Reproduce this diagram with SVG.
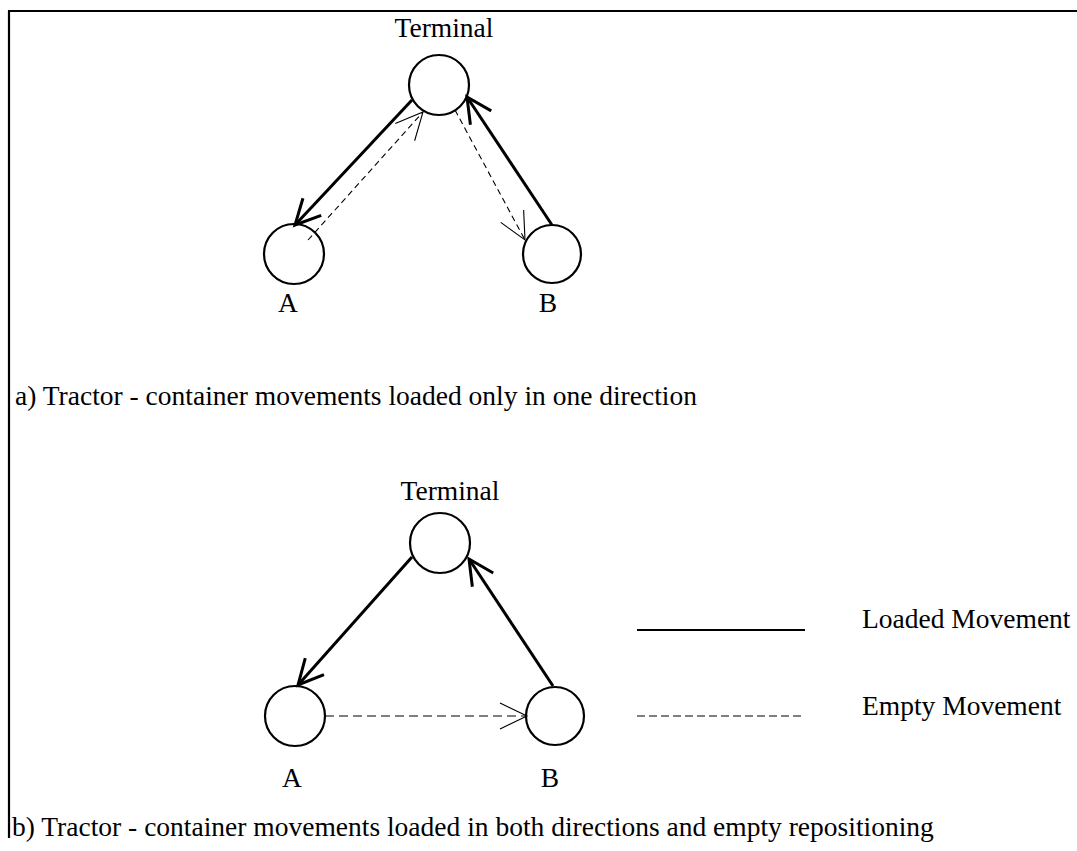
<svg xmlns="http://www.w3.org/2000/svg" width="1077" height="851" viewBox="0 0 1077 851">
<defs>
<style>
text{font-family:"Liberation Serif","Times New Roman",serif;font-size:27.5px;fill:#000}
.node{fill:#fff;stroke:#000;stroke-width:2.2}
.loaded{stroke:#000;stroke-width:3;fill:none}
.empty{stroke:#000;stroke-width:1.1;fill:none;stroke-dasharray:6 4}
.emptyh{stroke:#000;stroke-width:1.1;fill:none;stroke-dasharray:9 5}
.frame{stroke:#000;stroke-width:2.2;fill:none}
</style>
<marker id="ahL" markerUnits="userSpaceOnUse" markerWidth="40" markerHeight="40" refX="26" refY="13" orient="auto" overflow="visible">
<path d="M1,0.5 L26,13 L1,25.5" fill="none" stroke="#000" stroke-width="3" stroke-dasharray="none" stroke-linejoin="miter"/>
</marker>
<marker id="ahE" markerUnits="userSpaceOnUse" markerWidth="40" markerHeight="40" refX="27" refY="14" orient="auto" overflow="visible">
<path d="M0,1 L27,14 L0,27" fill="none" stroke="#000" stroke-width="1.1" stroke-dasharray="none"/>
</marker>
</defs>
<rect width="1077" height="851" fill="#fff"/>
<g id="frame">
<line class="frame" x1="8" y1="11" x2="1077" y2="11"/>
<line class="frame" x1="9" y1="11" x2="9" y2="838"/>
</g>
<g id="a-terminal"><circle class="node" cx="439" cy="85" r="30"/><text x="444" y="37" text-anchor="middle">Terminal</text></g>
<g id="a-A"><circle class="node" cx="294" cy="254" r="30"/><text x="288" y="312" text-anchor="middle">A</text></g>
<g id="a-B"><circle class="node" cx="552" cy="254" r="29"/><text x="548" y="312" text-anchor="middle">B</text></g>
<text id="caption-a" x="15" y="405">a) Tractor - container movements loaded only in one direction</text>
<g id="b-terminal"><circle class="node" cx="440" cy="543" r="30"/><text x="450" y="500" text-anchor="middle">Terminal</text></g>
<g id="b-A"><circle class="node" cx="295" cy="716" r="30"/><text x="292" y="787" text-anchor="middle">A</text></g>
<g id="b-B"><circle class="node" cx="555" cy="716" r="29"/><text x="550" y="787" text-anchor="middle">B</text></g>
<g id="connectors">
<line class="loaded" x1="412" y1="100" x2="295" y2="225" marker-end="url(#ahL)"/>
<line class="loaded" x1="552" y1="225" x2="467" y2="97" marker-end="url(#ahL)"/>
<line class="empty" x1="308" y1="240" x2="423" y2="112" marker-end="url(#ahE)"/>
<line class="empty" x1="455" y1="110" x2="525" y2="240" marker-end="url(#ahE)"/>
<line class="loaded" x1="412" y1="557" x2="298" y2="685" marker-end="url(#ahL)"/>
<line class="loaded" x1="553" y1="686" x2="469" y2="559" marker-end="url(#ahL)"/>
<line class="emptyh" x1="325" y1="716" x2="527" y2="716" marker-end="url(#ahE)"/>
</g>
<g id="legend">
<line class="loaded" style="stroke-width:2" x1="637" y1="630" x2="805" y2="630"/>
<text x="862" y="628">Loaded Movement</text>
<line class="emptyh" style="stroke-dasharray:8 4" x1="637" y1="716" x2="805" y2="716"/>
<text x="862" y="715">Empty Movement</text>
</g>
<text id="caption-b" x="12" y="836">b) Tractor - container movements loaded in both directions and empty repositioning</text>
</svg>
